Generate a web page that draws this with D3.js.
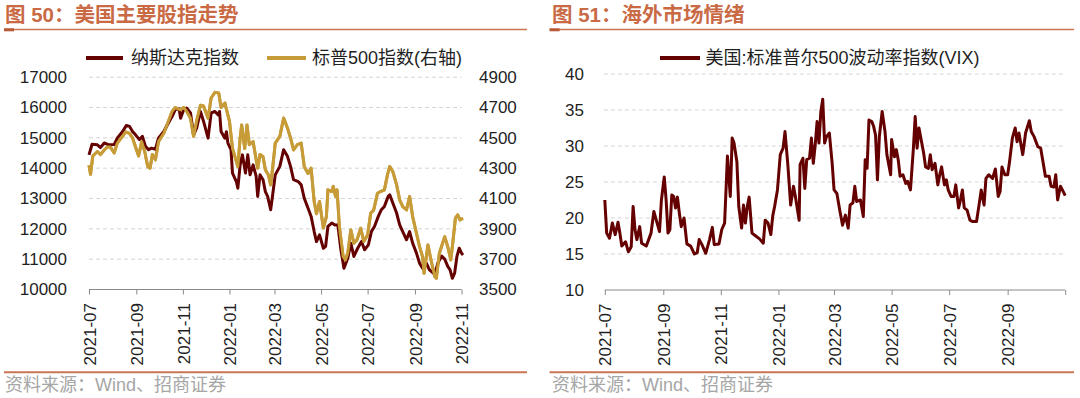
<!DOCTYPE html>
<html><head><meta charset="utf-8">
<script src="https://cdn.jsdelivr.net/npm/d3@7"></script>
<style>
html,body{margin:0;padding:0;background:#fff;}
svg{display:block;font-family:"Liberation Sans","Noto Sans CJK SC",sans-serif;}
</style></head><body>
<svg id="c" width="1080" height="398"></svg>
<script>
// ---------- data ----------
const leftTitleNum = "50", leftTitleText = "美国主要股指走势";
const rightTitleNum = "51", rightTitleText = "海外市场情绪";
const sourceText = "资料来源：Wind、招商证券";
const nasdaqName = "纳斯达克指数", spxName = "标普500指数(右轴)";
const vixName = "美国:标准普尔500波动率指数(VIX)";

const xTickDates = ["2021-07-01","2021-09-01","2021-11-01","2022-01-01","2022-03-01","2022-05-01","2022-07-01","2022-09-01","2022-11-01"];
const leftTicks = [10000,11000,12000,13000,14000,15000,16000,17000];
const rightTicks = [3500,3700,3900,4100,4300,4500,4700,4900];
const vixTicks = [10,15,20,25,30,35,40];

const nasdaqDates = ["2021-07-01","2021-07-05","2021-07-12","2021-07-16","2021-07-21","2021-07-27","2021-08-03","2021-08-07","2021-08-14","2021-08-19","2021-08-23","2021-08-27","2021-08-31","2021-09-05","2021-09-09","2021-09-13","2021-09-17","2021-09-21","2021-09-26","2021-09-30","2021-10-07","2021-10-13","2021-10-18","2021-10-22","2021-10-27","2021-10-29","2021-11-02","2021-11-06","2021-11-11","2021-11-15","2021-11-19","2021-11-24","2021-11-28","2021-12-04","2021-12-08","2021-12-13","2021-12-17","2021-12-19","2021-12-21","2021-12-26","2021-12-28","2021-12-30","2022-01-03","2022-01-05","2022-01-10","2022-01-12","2022-01-15","2022-01-18","2022-01-22","2022-01-25","2022-01-28","2022-02-01","2022-02-05","2022-02-07","2022-02-10","2022-02-14","2022-02-17","2022-02-20","2022-02-24","2022-02-26","2022-03-02","2022-03-08","2022-03-13","2022-03-18","2022-03-22","2022-03-26","2022-04-01","2022-04-05","2022-04-09","2022-04-14","2022-04-18","2022-04-22","2022-04-25","2022-04-29","2022-05-04","2022-05-07","2022-05-10","2022-05-15","2022-05-19","2022-05-23","2022-05-27","2022-05-31","2022-06-05","2022-06-09","2022-06-13","2022-06-18","2022-06-23","2022-06-27","2022-07-02","2022-07-06","2022-07-10","2022-07-15","2022-07-19","2022-07-23","2022-07-28","2022-07-30","2022-08-03","2022-08-08","2022-08-12","2022-08-16","2022-08-21","2022-08-25","2022-08-29","2022-09-03","2022-09-07","2022-09-11","2022-09-16","2022-09-20","2022-09-27","2022-10-01","2022-10-06","2022-10-10","2022-10-14","2022-10-17","2022-10-20","2022-10-23","2022-10-26","2022-10-29","2022-11-01","2022-11-03"];
const nasdaqValues = [14440,14790,14770,14680,14830,14770,14780,14990,15210,15410,15380,15210,15100,14940,15050,14720,14610,14660,14620,14990,15210,15490,15710,15930,15960,15650,15930,15980,15820,15100,15320,15870,15550,14990,15820,15870,15760,15870,15210,14990,15200,14830,14610,13840,13560,13340,14110,14440,13840,14440,13780,14110,13730,13070,13780,13620,13230,13070,12630,13000,13780,14060,14610,14390,14060,13620,13560,13450,13010,12680,12410,11910,11580,11800,11360,11420,12080,12190,12130,12130,11310,10700,11030,11530,11090,11360,11580,11310,11470,11910,12080,12410,12630,12740,13070,13120,12850,12520,12130,11910,11640,11910,11530,11200,10870,10700,10870,10650,10500,10870,11100,11000,10760,10650,10370,10540,11090,11360,11200,11140];

const spxDates = ["2021-07-01","2021-07-03","2021-07-06","2021-07-12","2021-07-16","2021-07-21","2021-07-25","2021-07-29","2021-08-03","2021-08-07","2021-08-14","2021-08-18","2021-08-23","2021-08-27","2021-08-31","2021-09-04","2021-09-08","2021-09-12","2021-09-16","2021-09-19","2021-09-22","2021-09-26","2021-09-30","2021-10-07","2021-10-13","2021-10-18","2021-10-22","2021-10-29","2021-11-02","2021-11-06","2021-11-11","2021-11-15","2021-11-19","2021-11-24","2021-11-28","2021-12-04","2021-12-08","2021-12-13","2021-12-18","2021-12-21","2021-12-26","2021-12-28","2022-01-01","2022-01-05","2022-01-10","2022-01-12","2022-01-15","2022-01-17","2022-01-21","2022-01-24","2022-01-27","2022-02-01","2022-02-05","2022-02-07","2022-02-10","2022-02-14","2022-02-17","2022-02-21","2022-02-24","2022-02-27","2022-03-02","2022-03-08","2022-03-13","2022-03-18","2022-03-22","2022-03-26","2022-03-31","2022-04-05","2022-04-09","2022-04-14","2022-04-18","2022-04-22","2022-04-25","2022-04-29","2022-05-04","2022-05-08","2022-05-10","2022-05-15","2022-05-17","2022-05-20","2022-05-22","2022-05-25","2022-05-30","2022-06-02","2022-06-05","2022-06-09","2022-06-13","2022-06-17","2022-06-22","2022-06-26","2022-07-01","2022-07-05","2022-07-09","2022-07-14","2022-07-18","2022-07-23","2022-07-27","2022-07-30","2022-08-03","2022-08-08","2022-08-12","2022-08-16","2022-08-21","2022-08-25","2022-08-29","2022-09-03","2022-09-07","2022-09-11","2022-09-13","2022-09-18","2022-09-22","2022-09-27","2022-09-29","2022-10-03","2022-10-10","2022-10-14","2022-10-18","2022-10-21","2022-10-24","2022-10-27","2022-10-30","2022-11-03"];
const spxValues = [4320,4260,4380,4410,4390,4420,4440,4440,4400,4465,4510,4540,4530,4500,4440,4380,4475,4410,4310,4300,4390,4355,4475,4530,4610,4675,4700,4685,4700,4675,4630,4510,4610,4715,4710,4630,4763,4800,4796,4700,4730,4690,4610,4430,4345,4310,4500,4585,4430,4585,4455,4475,4355,4300,4390,4375,4290,4255,4190,4320,4465,4510,4630,4565,4500,4420,4455,4465,4310,4265,4300,4080,4000,4080,3905,3980,4157,4146,4180,4113,4157,3915,3716,3695,3740,3893,3805,3827,3904,3816,3860,4003,4025,4135,4146,4157,4256,4311,4278,4190,4091,4047,4025,4113,3981,3871,3783,3716,3607,3794,3695,3585,3574,3739,3848,3782,3695,3827,3970,3992,3959,3970];

const vixDates = ["2021-07-01","2021-07-03","2021-07-06","2021-07-09","2021-07-12","2021-07-15","2021-07-17","2021-07-19","2021-07-23","2021-07-26","2021-07-29","2021-07-31","2021-08-02","2021-08-04","2021-08-07","2021-08-09","2021-08-14","2021-08-19","2021-08-22","2021-08-25","2021-08-28","2021-08-30","2021-09-02","2021-09-04","2021-09-06","2021-09-08","2021-09-10","2021-09-12","2021-09-14","2021-09-16","2021-09-18","2021-09-20","2021-09-23","2021-09-26","2021-09-30","2021-10-04","2021-10-07","2021-10-09","2021-10-12","2021-10-16","2021-10-20","2021-10-23","2021-10-25","2021-10-30","2021-11-02","2021-11-05","2021-11-08","2021-11-11","2021-11-13","2021-11-15","2021-11-18","2021-11-20","2021-11-23","2021-11-25","2021-11-27","2021-11-29","2021-12-01","2021-12-04","2021-12-08","2021-12-12","2021-12-16","2021-12-18","2021-12-21","2021-12-24","2021-12-26","2021-12-28","2021-12-31","2022-01-03","2022-01-06","2022-01-08","2022-01-11","2022-01-14","2022-01-17","2022-01-19","2022-01-23","2022-01-24","2022-01-27","2022-01-29","2022-01-31","2022-02-03","2022-02-05","2022-02-07","2022-02-09","2022-02-11","2022-02-13","2022-02-15","2022-02-17","2022-02-19","2022-02-21","2022-02-24","2022-02-27","2022-03-01","2022-03-04","2022-03-07","2022-03-10","2022-03-13","2022-03-16","2022-03-18","2022-03-21","2022-03-23","2022-03-25","2022-03-29","2022-04-01","2022-04-03","2022-04-05","2022-04-07","2022-04-10","2022-04-12","2022-04-14","2022-04-16","2022-04-18","2022-04-21","2022-04-24","2022-04-26","2022-04-30","2022-05-01","2022-05-04","2022-05-06","2022-05-08","2022-05-10","2022-05-13","2022-05-16","2022-05-18","2022-05-21","2022-05-24","2022-05-26","2022-05-28","2022-05-30","2022-06-01","2022-06-04","2022-06-06","2022-06-09","2022-06-11","2022-06-13","2022-06-16","2022-06-19","2022-06-21","2022-06-23","2022-06-26","2022-06-28","2022-06-30","2022-07-03","2022-07-06","2022-07-08","2022-07-11","2022-07-13","2022-07-15","2022-07-17","2022-07-20","2022-07-23","2022-07-26","2022-07-30","2022-08-02","2022-08-04","2022-08-07","2022-08-09","2022-08-12","2022-08-16","2022-08-19","2022-08-22","2022-08-24","2022-08-26","2022-08-29","2022-09-01","2022-09-03","2022-09-06","2022-09-09","2022-09-11","2022-09-13","2022-09-17","2022-09-20","2022-09-24","2022-09-26","2022-09-29","2022-10-03","2022-10-06","2022-10-09","2022-10-11","2022-10-15","2022-10-17","2022-10-20","2022-10-22","2022-10-24","2022-10-27","2022-10-29","2022-11-01"];
const vixValues = [22.5,17.9,17.2,19.3,17.7,19.4,17.9,16.1,16.7,15.3,16.0,21.6,18.4,17.0,18.8,16.5,16.1,17.9,20.9,19.5,18.1,22.5,25.7,22.5,17.9,18.4,23.2,23.0,21.4,22.9,20.7,18.8,20.0,16.4,16.1,15.0,15.2,17.0,16.3,15.1,17.0,18.7,16.3,16.4,18.4,19.3,28.6,23.0,31.1,30.4,27.8,21.6,18.6,21.8,19.3,21.6,22.9,17.9,17.5,17.1,16.5,19.7,19.3,17.7,20.3,21.6,23.9,28.8,29.7,32.0,27.4,21.8,24.4,23.0,19.7,27.4,28.3,24.1,28.1,28.3,31.1,27.6,30.1,33.4,30.4,34.8,36.5,30.4,31.3,31.8,27.6,23.9,23.4,21.1,19.0,20.4,18.6,21.8,22.1,24.4,22.3,22.5,20.2,28.1,26.9,33.6,33.4,32.7,31.5,25.3,31.3,34.8,32.0,28.8,26.0,30.9,28.5,29.5,28.1,25.8,26.0,24.8,25.1,23.9,29.5,34.1,29.7,32.5,31.1,29.0,27.1,26.9,28.8,26.7,27.6,24.6,26.0,27.1,24.6,25.3,23.9,23.0,23.0,24.6,21.4,22.5,23.9,21.4,21.1,19.7,19.5,19.5,22.1,23.9,21.8,25.5,26.0,25.5,26.8,23.0,23.7,27.1,26.0,26.0,27.8,31.1,32.5,30.6,31.8,28.8,31.8,33.5,32.0,31.3,29.9,29.7,27.4,25.8,25.8,24.4,24.3,26.0,22.5,24.4,23.9,23.1];

// ---------- styles ----------
const C_TITLE = "#c96a45", C_RULE = "#cc7452", C_DARK = "#650000", C_GOLD = "#c79c38";
const C_GRID = "#d4d4d4", C_AXIS = "#8a8a8a", C_TEXT = "#1f1f1f", C_SRC = "#a6a6a6";

const parse = d3.timeParse("%Y-%m-%d");
const svg = d3.select("#c");
const fmt = d3.timeFormat("%Y-%m");

function frame(x0, x1, tx, num, title) {
  const t = svg.append("text").attr("x", tx).attr("y", 22).attr("fill", C_TITLE)
    .attr("font-size", 20.5).attr("font-weight", "bold");
  t.append("tspan").text("图 ");
  t.append("tspan").text(num + "：");
  t.append("tspan").text(title);
  svg.append("line").attr("x1", x0).attr("x2", x1).attr("y1", 29.5).attr("y2", 29.5)
    .attr("stroke", C_RULE).attr("stroke-width", 1.4);
  svg.append("rect").attr("x", x0).attr("y", 28.3).attr("width", 10).attr("height", 3)
    .attr("fill", "#b85a38");
  svg.append("line").attr("x1", x0).attr("x2", x1).attr("y1", 372.3).attr("y2", 372.3)
    .attr("stroke", C_RULE).attr("stroke-width", 2);
  svg.append("text").attr("x", tx).attr("y", 391).attr("fill", C_SRC)
    .attr("font-size", 18).text(sourceText);
}

function grid(g, ys, vals, xa, xb) {
  g.selectAll(null).data(vals).enter().append("line")
    .attr("x1", xa).attr("x2", xb).attr("y1", d => ys(d)).attr("y2", d => ys(d))
    .attr("stroke", C_GRID).attr("stroke-width", 1).attr("stroke-dasharray", "4,3");
}

function styleAxis(g) {
  g.select(".domain").remove();
  g.selectAll("text").attr("fill", C_TEXT).attr("font-size", 17)
    .attr("font-family", "Liberation Sans, Arial, sans-serif");
}

function bottomAxis(xs, yBase, labelFn) {
  const g = svg.append("g").attr("transform", `translate(0,${yBase})`)
    .call(d3.axisBottom(xs).tickValues(xTickDates.map(parse)).tickSize(5).tickFormat(labelFn));
  g.select(".domain").attr("stroke", C_AXIS).attr("d", `M${xs.range()[0]},0H${xs.range()[1]}`);
  g.selectAll(".tick line").attr("stroke", C_AXIS);
  g.selectAll("text").attr("fill", C_TEXT).attr("font-size", 17)
    .attr("font-family", "Liberation Sans, Arial, sans-serif")
    .attr("transform", "rotate(-90)").attr("text-anchor", "end")
    .attr("x", -13.5).attr("y", 0).attr("dy", "0.36em");
}

function legendItem(x1, x2, tx, color, label) {
  svg.append("line").attr("x1", x1).attr("x2", x2).attr("y1", 58).attr("y2", 58)
    .attr("stroke", color).attr("stroke-width", 4);
  svg.append("text").attr("x", tx).attr("y", 58).attr("dy", "0.36em").attr("fill", C_TEXT)
    .attr("font-size", 18).text(label);
}

// ---------- left panel ----------
frame(4, 527, 5, leftTitleNum, leftTitleText);
const xL = d3.scaleTime().domain([parse("2021-07-01"), parse("2022-11-01")]).range([89, 461.5]);
const yN = d3.scaleLinear().domain([10000, 17000]).range([289.5, 77.2]);
const yS = d3.scaleLinear().domain([3500, 4900]).range([289.5, 77.2]);
grid(svg.append("g"), yN, leftTicks.slice(1), 89, 461.5);

styleAxis(svg.append("g").attr("transform", "translate(89,0)")
  .call(d3.axisLeft(yN).tickValues(leftTicks).tickSize(0).tickPadding(22).tickFormat(d3.format("d"))));
styleAxis(svg.append("g").attr("transform", "translate(461.5,0)")
  .call(d3.axisRight(yS).tickValues(rightTicks).tickSize(0).tickPadding(17.5).tickFormat(d3.format("d"))));
bottomAxis(xL, 289.5, d => fmt(d));

const nasdaq = nasdaqDates.map((d, i) => ({d: parse(d), v: nasdaqValues[i]}));
const spx = spxDates.map((d, i) => ({d: parse(d), v: spxValues[i]}));
svg.append("path").datum(spx).attr("fill", "none").attr("stroke", C_GOLD).attr("stroke-width", 3)
  .attr("stroke-linejoin", "round").attr("d", d3.line().x(p => xL(p.d)).y(p => yS(p.v)));
svg.append("path").datum(nasdaq).attr("fill", "none").attr("stroke", C_DARK).attr("stroke-width", 3)
  .attr("stroke-linejoin", "round").attr("d", d3.line().x(p => xL(p.d)).y(p => yN(p.v)));
// redraw gold on top lightly where it overlaps (as in reference, gold is in front)
svg.append("path").datum(spx).attr("fill", "none").attr("stroke", C_GOLD).attr("stroke-width", 3)
  .attr("stroke-linejoin", "round").attr("d", d3.line().x(p => xL(p.d)).y(p => yS(p.v)));

legendItem(86, 123, 131, C_DARK, nasdaqName);
legendItem(267, 306, 312, C_GOLD, spxName);

// ---------- right panel ----------
frame(549.6, 1074, 552, rightTitleNum, rightTitleText);
const xR = d3.scaleTime().domain([parse("2021-07-01"), parse("2022-11-01")]).range([604.8, 1065.2]);
const yV = d3.scaleLinear().domain([10, 40]).range([290, 74]);
grid(svg.append("g"), yV, vixTicks.slice(1), 603.8, 1065.2);
styleAxis(svg.append("g").attr("transform", "translate(604.8,0)")
  .call(d3.axisLeft(yV).tickValues(vixTicks).tickSize(0).tickPadding(20.8)));
bottomAxis(xR, 290, d => (fmt(d) === "2022-11" ? "" : fmt(d)));

const vix = vixDates.map((d, i) => ({d: parse(d), v: vixValues[i]}));
svg.append("path").datum(vix).attr("fill", "none").attr("stroke", C_DARK).attr("stroke-width", 3)
  .attr("stroke-linejoin", "round").attr("d", d3.line().x(p => xR(p.d)).y(p => yV(p.v)));

legendItem(660, 700, 705.5, C_DARK, vixName);
</script>
</body></html>
